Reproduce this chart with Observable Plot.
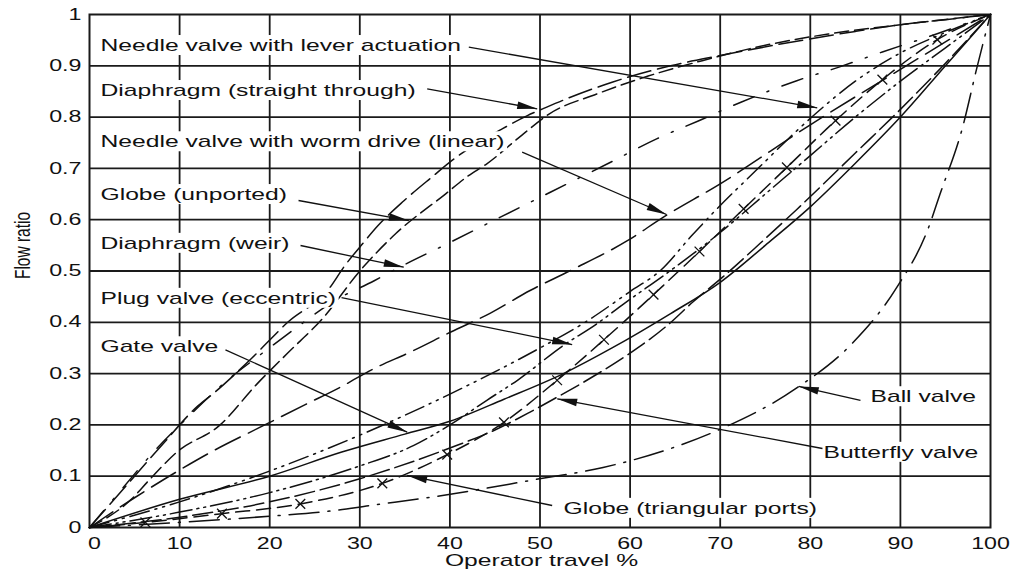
<!DOCTYPE html>
<html><head><meta charset="utf-8">
<script src="https://cdn.jsdelivr.net/npm/d3@7"></script>
<script src="https://cdn.jsdelivr.net/npm/@observablehq/plot@0.6"></script>
<style>body{margin:0;background:#fff;}</style>
</head><body><div id="chart"></div>
<script>
// ---------- data ----------
const xTicks = [0,10,20,30,40,50,60,70,80,90,100];
const xTickLabels = ["0","10","20","30","40","50","60","70","80","90","100"];
const yTicks = [0,0.1,0.2,0.3,0.4,0.5,0.6,0.7,0.8,0.9,1];
const yTickLabels = ["0","0.1","0.2","0.3","0.4","0.5","0.6","0.7","0.8","0.9","1"];
const xLabel = "Operator travel %";
const yLabel = "Flow ratio";

const valveNames = ["Needle valve with lever actuation","Diaphragm (straight through)","Needle valve with worm drive (linear)","Globe (unported)","Diaphragm (weir)","Plug valve (eccentric)","Gate valve","Ball valve","Butterfly valve","Globe (triangular ports)"];

const needleLever = [[0,0],[10,0.05],[20,0.11],[30,0.18],[40,0.26],[50,0.35],[55,0.4],[60,0.46],[63.3,0.5],[66.9,0.57],[69.3,0.615],[74.5,0.705],[77.4,0.755],[80.8,0.81],[85,0.87],[90,0.925],[95,0.965],[100,1]];
const diaphragmStraight = [[0,0],[4,0.08],[8,0.16],[12.1,0.238],[13.8,0.262],[18,0.33],[22,0.4],[26.7,0.468],[28.2,0.507],[30.4,0.555],[32,0.588],[34.9,0.637],[38.2,0.686],[40.2,0.715],[45.8,0.777],[48.6,0.803],[50.3,0.816],[53,0.836],[58,0.868],[64.5,0.9],[70,0.92],[78.5,0.948],[85,0.967],[90,0.98],[95,0.99],[100,1]];
const needleWorm = [[0,0],[5,0.058],[10,0.112],[13.8,0.15],[19,0.196],[24,0.24],[28,0.275],[31.6,0.31],[35.6,0.342],[40.1,0.381],[44.5,0.418],[48.9,0.462],[53.4,0.501],[59.7,0.559],[63.7,0.605],[70,0.67],[80,0.785],[90,0.893],[100,1]];
const globeUnported = [[0,0],[4.7,0.056],[6.6,0.092],[9.7,0.147],[14.5,0.2],[18.6,0.28],[22,0.34],[26,0.41],[30,0.5],[34,0.573],[39.5,0.65],[42,0.685],[44.1,0.709],[48,0.765],[51,0.806],[56.3,0.845],[62,0.88],[68,0.91],[75,0.94],[82,0.962],[90,0.98],[100,1]];
const diaphragmWeir = [[0,0],[3.6,0.075],[7.1,0.147],[11.1,0.218],[15.3,0.287],[18.6,0.332],[23,0.39],[27,0.44],[31.6,0.481],[34.7,0.51],[39.7,0.553],[45.6,0.605],[51.2,0.654],[57.5,0.709],[63,0.758],[67.5,0.792],[72.3,0.829],[78.5,0.871],[83.1,0.897],[88,0.927],[94,0.962],[100,1]];
const plugValve = [[0,0],[10,0.03],[20,0.068],[30,0.12],[36,0.16],[40,0.2],[44.1,0.248],[47.5,0.287],[52.6,0.355],[56.3,0.397],[59.3,0.436],[64.5,0.501],[70,0.575],[75,0.65],[80,0.725],[85,0.8],[90,0.87],[95,0.935],[100,1]];
const gateValve = [[0,0],[10,0.055],[20,0.1],[28,0.147],[35,0.182],[40,0.207],[46,0.25],[52.6,0.3],[58,0.35],[64.5,0.417],[70,0.478],[75,0.55],[80,0.625],[85,0.71],[90,0.8],[95,0.9],[100,1]];
const ballValve = [[0,0],[10,0.01],[20,0.022],[26.7,0.032],[31.2,0.043],[39,0.062],[49,0.092],[57,0.117],[64.5,0.154],[69.8,0.19],[78.5,0.272],[84.6,0.358],[89.6,0.468],[93,0.579],[94.4,0.65],[96.9,0.78],[98.5,0.897],[100,1]];
const butterflyValve = [[0,0],[10,0.02],[20,0.05],[30,0.095],[40,0.155],[45,0.19],[48.9,0.225],[51.9,0.254],[55.2,0.287],[60,0.34],[64,0.392],[67,0.44],[70.4,0.49],[74.5,0.555],[78.5,0.62],[85,0.73],[90,0.815],[95,0.905],[100,1]];
const globeTriangularMarks = [[6.2,0.01],[14.7,0.027],[23.4,0.046],[32.5,0.086],[39.7,0.142],[46,0.205],[51.9,0.287],[57.1,0.366],[62.6,0.454],[67.7,0.538],[72.6,0.621],[77.4,0.702],[82.8,0.793],[88,0.873],[94.1,0.951]];
const globeTriangular = [[0,0], ...globeTriangularMarks, [100,1]];

// annotation anchors (data units): label position, arrow start, arrow tip
const labelX = [1.22,1.22,1.22,1.22,1.22,1.22,1.22,86.68,81.46,52.61];
const labelY = [0.9394,0.8517,0.7518,0.6489,0.5538,0.4466,0.3522,0.2548,0.1464,0.0372];
const arrowFrom = [[42.10,0.9363],[37.48,0.8552],[48.02,0.7316],[23.20,0.6374],[23.42,0.5497],[27.97,0.4483],[15.09,0.3464],[85.57,0.2476],[81.35,0.1540],[51.35,0.0429]];
const arrowTo = [[80.77,0.8181],[49.69,0.8162],[64.04,0.6101],[35.44,0.5984],[34.88,0.5074],[53.57,0.3567],[35.26,0.1858],[78.72,0.2749],[51.91,0.2509],[35.26,0.1014]];

// ---------- layout ----------
const W = 1016, H = 571, ML = 89, MR = 26, MT = 14, MB = 44;
const kx = (W - ML - MR) / 100, ky = (H - MT - MB) / 1;
const INK = "#111";
const FONT = "'Liberation Sans', Arial, Helvetica, sans-serif";
const STRETCH = 1.45;

const labels = valveNames.map((name, i) => ({name, x: labelX[i], y: labelY[i]}));
const arrows = valveNames.map((name, i) => {
  const [x1, y1] = arrowFrom[i], [x2, y2] = arrowTo[i];
  return {name, x1, y1, x2, y2, angle: Math.atan2((x2 - x1) * kx, (y2 - y1) * ky) * 180 / Math.PI};
});

const arrowHead = {draw(ctx) { ctx.moveTo(0, 0); ctx.lineTo(-3.8, 20); ctx.lineTo(3.8, 20); ctx.closePath(); }};

const series = [
  {data: needleLever, dash: "20,6,2,6,2,6"},
  {data: diaphragmStraight, dash: "24,7"},
  {data: needleWorm, dash: "28,9"},
  {data: globeUnported, dash: "14,6"},
  {data: diaphragmWeir, dash: "22,14,2,14"},
  {data: plugValve, dash: "22,5,2,5,2,5"},
  {data: gateValve, dash: null},
  {data: ballValve, dash: "30,9,2,9"},
  {data: butterflyValve, dash: "20,6"},
  {data: globeTriangular, dash: "14,7"}
];

const lineMarks = series.map(s => Plot.line(s.data, {
  x: d => d[0], y: d => d[1], curve: "monotone-x",
  stroke: INK, strokeWidth: 1.5, strokeDasharray: s.dash || undefined
}));

const plot = Plot.plot({
  width: W, height: H, marginLeft: ML, marginRight: MR, marginTop: MT, marginBottom: MB,
  x: {domain: [0, 100]}, y: {domain: [0, 1]},
  style: {fontFamily: FONT, fontSize: "16px", color: INK, background: "#fff"},
  marks: [
    Plot.ruleX(xTicks.slice(1, -1), {stroke: "#1a1a1a", strokeWidth: 1.8}),
    Plot.ruleY(yTicks.slice(1, -1), {stroke: "#1a1a1a", strokeWidth: 1.8}),
    Plot.frame({stroke: "#1a1a1a", strokeWidth: 2}),
    ...lineMarks,
    Plot.dot(globeTriangularMarks, {x: d => d[0], y: d => d[1], symbol: "times", r: 4.5, stroke: INK, strokeWidth: 1.3}),
    Plot.text(labels, {x: "x", y: "y", text: "name", textAnchor: "start", lineAnchor: "middle", fontSize: 17, fill: INK}),
    Plot.link(arrows, {x1: "x1", y1: "y1", x2: "x2", y2: "y2", stroke: INK, strokeWidth: 1.3}),
    Plot.dot(arrows, {x: "x2", y: "y2", symbol: arrowHead, rotate: "angle", fill: INK, stroke: "none", r: 5}),
    Plot.axisX({ticks: xTicks, tickSize: 0, tickPadding: 10, label: null, fontSize: 16,
      tickFormat: d => xTickLabels[xTicks.indexOf(d)]}),
    Plot.axisY({ticks: yTicks, tickSize: 0, tickPadding: 8, label: null, fontSize: 16,
      tickFormat: d => yTickLabels[yTicks.indexOf(d)]}),
    Plot.text([xLabel], {frameAnchor: "bottom", dy: 33, dx: 1.5, textAnchor: "middle", lineAnchor: "middle", fontSize: 17, fill: INK}),
    Plot.text([yLabel], {frameAnchor: "left", dx: -67, dy: -25.5, rotate: -90, textAnchor: "middle", lineAnchor: "middle", fontSize: 15.5, fill: INK})
  ]
});
document.getElementById("chart").append(plot);

// ---------- post-process: horizontal stretch of lettering, white boxes behind labels ----------
const svg = plot.tagName.toLowerCase() === "svg" ? plot : plot.querySelector("svg");
const NS = "http://www.w3.org/2000/svg";
const texts = [...svg.querySelectorAll("text")];
const lengths = new Map();
texts.forEach(t => {
  if (t.textContent === yLabel) return;
  const w = t.getComputedTextLength();
  lengths.set(t, w * STRETCH);
  t.setAttribute("textLength", (w * STRETCH).toFixed(1));
  t.setAttribute("lengthAdjust", "spacingAndGlyphs");
});
// the "0" under the origin sits slightly right of its gridline in the reference
texts.filter(t => t.textContent === "0" && t.parentNode.getAttribute("aria-label") === "x-axis tick label")
  .forEach(t => t.setAttribute("dx", "5"));
const labelTexts = texts.filter(t => valveNames.includes(t.textContent));
if (labelTexts.length) {
  const g = labelTexts[0].parentNode;
  const boxG = document.createElementNS(NS, "g");
  labelTexts.forEach(t => {
    const b = t.getBBox();
    const r = document.createElementNS(NS, "rect");
    r.setAttribute("x", b.x - 3);
    r.setAttribute("y", b.y - 0.5);
    r.setAttribute("width", Math.max(b.width, lengths.get(t)) + 6);
    r.setAttribute("height", b.height + 1);
    if (t.getAttribute("transform")) r.setAttribute("transform", t.getAttribute("transform"));
    r.setAttribute("fill", "#fff");
    boxG.append(r);
  });
  g.parentNode.insertBefore(boxG, g);
}
const yl = texts.find(t => t.textContent === yLabel);
if (yl) {
  const g = yl.parentNode;
  const bb = yl.getBoundingClientRect(), sr = svg.getBoundingClientRect();
  const cx = bb.x + bb.width / 2 - sr.x, cy = bb.y + bb.height / 2 - sr.y;
  const wrap = document.createElementNS(NS, "g");
  wrap.setAttribute("transform", `translate(${cx},${cy}) scale(${STRETCH},1) translate(${-cx},${-cy})`);
  g.parentNode.insertBefore(wrap, g);
  wrap.append(g);
}
</script>
</body></html>
